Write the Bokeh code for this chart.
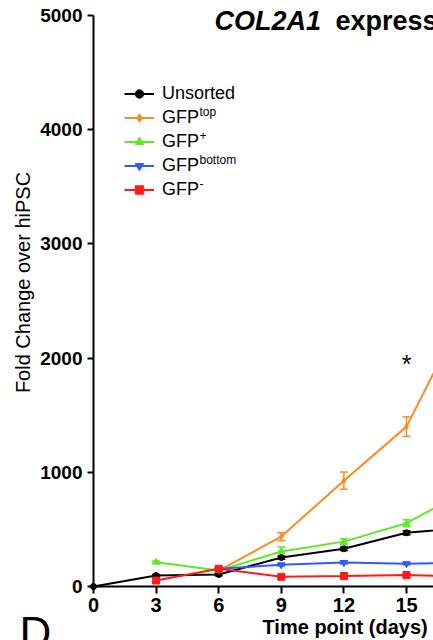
import math
from bokeh.plotting import figure
from bokeh.models import (Label, Legend, LegendItem, Whisker, ColumnDataSource,
                          FixedTicker, Range1d, TeeHead)
from bokeh.core.properties import value
from bokeh.embed import file_html
from bokeh.resources import INLINE

# ---------------- data ----------------
x_ticks = [0, 3, 6, 9, 12, 15]
y_ticks = [0, 1000, 2000, 3000, 4000, 5000]

unsorted_days = [0, 3, 6, 9, 12, 15, 18]
unsorted_vals = [0, 96, 105, 254, 330, 470, 520]
unsorted_err = [0, 10, 10, 15, 15, 18, 20]

top_days = [6, 9, 12, 15, 18]
top_vals = [140, 437, 927, 1400, 2480]
top_err = [15, 35, 75, 85, 100]

plus_days = [3, 6, 9, 12, 15, 18]
plus_vals = [213, 140, 306, 393, 554, 850]
plus_err = [10, 10, 40, 25, 30, 40]

bottom_days = [6, 9, 12, 15, 18]
bottom_vals = [155, 190, 210, 200, 210]
bottom_err = [8, 10, 12, 10, 10]

minus_days = [3, 6, 9, 12, 15, 18]
minus_vals = [52, 155, 85, 92, 100, 85]
minus_err = [20, 10, 8, 8, 8, 8]

sig_days = [15]
sig_y = [1950]

# ---------------- layout ----------------
W, H = 433, 640
AX_L, AX_T, AX_B = 93, 15, 586          # axis origin / top in page pixels
PX_DAY = (406 - AX_L) / 15.0            # pixels per day
PX_VAL = (AX_B - AX_T) / 5000.0         # pixels per unit
FONT = "Liberation Sans"

x_range = Range1d(-AX_L / PX_DAY, (W - AX_L) / PX_DAY)
y_range = Range1d(-(H - AX_B) / PX_VAL, 5000 + AX_T / PX_VAL)

p = figure(width=W, height=H, x_range=x_range, y_range=y_range,
           output_backend="svg", toolbar_location=None,
           min_border_left=0, min_border_right=0, min_border_top=0,
           min_border_bottom=0)
p.title.visible = False
p.outline_line_color = None
p.grid.visible = False
p.background_fill_color = "white"
p.border_fill_color = "white"

for ax in (p.xaxis[0], p.yaxis[0]):
    ax.fixed_location = 0
    ax.axis_line_width = 2
    ax.axis_line_color = "black"
    ax.major_tick_line_width = 2
    ax.major_tick_line_color = "black"
    ax.minor_tick_line_color = None
    ax.major_tick_in = 0
    ax.major_label_text_font = FONT
    ax.major_label_text_font_style = "bold"
    ax.major_label_text_color = "black"

p.xaxis.bounds = (0, x_range.end)
p.xaxis.ticker = FixedTicker(ticks=x_ticks)
p.xaxis.major_tick_out = 7
p.xaxis.major_label_standoff = 4
p.xaxis.major_label_text_font_size = "20px"

p.yaxis.bounds = (0, 5000)
p.yaxis.ticker = FixedTicker(ticks=y_ticks)
p.yaxis.major_tick_out = 6
p.yaxis.major_label_standoff = 5
p.yaxis.major_label_text_font_size = "19px"

series = [
    ("Unsorted", None, unsorted_days, unsorted_vals, unsorted_err, "black", "circle", 6),
    ("GFP", "top", top_days, top_vals, top_err, "#FF8A1E", "diamond", 6),
    ("GFP", "+", plus_days, plus_vals, plus_err, "#5EEA22", "triangle", 7),
    ("GFP", "bottom", bottom_days, bottom_vals, bottom_err, "#2F5BFF", "inverted_triangle", 7),
    ("GFP", "-", minus_days, minus_vals, minus_err, "#FF1A1A", "square", 7),
]

items = []
for name, sup, xs, ys, es, col, mk, sz in series:
    src = ColumnDataSource(dict(x=xs, y=ys,
                                upper=[v + e for v, e in zip(ys, es)],
                                lower=[v - e for v, e in zip(ys, es)]))
    w = Whisker(source=src, base="x", upper="upper", lower="lower",
                line_color=col, line_width=1.5,
                upper_head=TeeHead(size=8, line_color=col, line_width=1.5),
                lower_head=TeeHead(size=8, line_color=col, line_width=1.5))
    p.add_layout(w)
    l = p.line("x", "y", source=src, line_color=col, line_width=2)
    s = p.scatter("x", "y", source=src, marker=mk, size=sz, fill_color=col, line_color=col)
    items.append(LegendItem(label=name, renderers=[l, s]))

p.text(x=sig_days, y=sig_y, text=["*"] * len(sig_days), text_font=value(FONT),
       text_font_size="25px", text_align="center", text_baseline="middle",
       text_color="black")

# legend (frame fills the page, so screen units are page pixels from bottom-left)
legend = Legend(items=items, location=(124, 440), padding=0, margin=0, spacing=3,
                glyph_width=30, glyph_height=21, label_height=21, label_standoff=8,
                label_text_font=FONT, label_text_font_size="18px",
                label_text_color="black", label_text_baseline="middle",
                border_line_color=None, background_fill_alpha=0)
p.add_layout(legend)

def sx(cx):
    return cx

def sy(cy):
    return H - cy

row_centers = [93, 117, 141, 165, 189]
for (name, sup, *_), rc in zip(series, row_centers):
    if sup:
        p.add_layout(Label(x=sx(199), y=sy(rc - 6), x_units="screen", y_units="screen",
                           text=sup, text_font=FONT, text_font_size="12px",
                           text_baseline="middle", text_align="left", text_color="black"))

# axis titles, title, panel letter
p.add_layout(Label(x=sx(22), y=sy(282), x_units="screen", y_units="screen",
                   text="Fold Change over hiPSC", angle=math.pi / 2,
                   text_font=FONT, text_font_size="20px", text_align="center",
                   text_baseline="middle", text_color="black"))
p.add_layout(Label(x=sx(262), y=sy(626), x_units="screen", y_units="screen",
                   text="Time point (days)", text_font=FONT, text_font_size="20px",
                   text_font_style="bold", text_align="left", text_baseline="middle",
                   text_color="black"))
p.add_layout(Label(x=sx(214), y=sy(20), x_units="screen", y_units="screen",
                   text="COL2A1", text_font=FONT, text_font_size="27px",
                   text_font_style="bold italic", text_align="left",
                   text_baseline="alphabetic", text_color="black"))
p.add_layout(Label(x=sx(335), y=sy(20), x_units="screen", y_units="screen",
                   text="expression", text_font=FONT, text_font_size="27px",
                   text_font_style="bold", text_align="left",
                   text_baseline="alphabetic", text_color="black"))
p.add_layout(Label(x=sx(19), y=sy(607), x_units="screen", y_units="screen",
                   text="D", text_font=FONT, text_font_size="44px",
                   text_align="left", text_baseline="top", text_color="black"))

open("out.html", "w").write(file_html(p, INLINE))
